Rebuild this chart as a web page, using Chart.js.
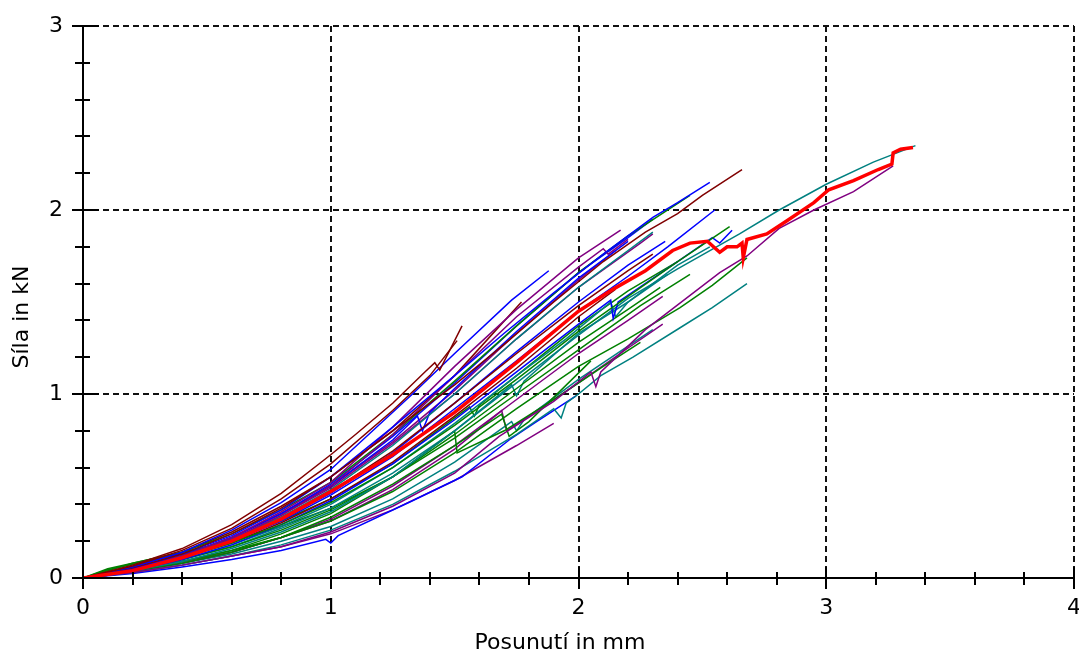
<!DOCTYPE html>
<html>
<head>
<meta charset="utf-8">
<script src="https://cdn.jsdelivr.net/npm/chart.js@4.4.1/dist/chart.umd.min.js"></script>
<style>
  html, body { margin: 0; padding: 0; background: #ffffff; }
  canvas { display: block; }
</style>
</head>
<body>
<canvas id="graf" width="1079" height="660"></canvas>
<script>
// Axis texts and tick values
const xTitle = 'Posunutí in mm';
const yTitle = 'Síla in kN';
const xTickValues = [0, 1, 2, 3, 4];
const yTickValues = [0, 1, 2, 3];
const xMinorTicks = [0.2, 0.4, 0.6, 0.8, 1.2, 1.4, 1.6, 1.8, 2.2, 2.4, 2.6, 2.8, 3.2, 3.4, 3.6, 3.8];
const yMinorTicks = [0.2, 0.4, 0.6, 0.8, 1.2, 1.4, 1.6, 1.8, 2.2, 2.4, 2.6, 2.8];

// Force–displacement records of the specimens: [displacement mm, force kN]
const vzorek01 = [[0,0],[0.2,0.07],[0.4,0.16],[0.6,0.29],[0.8,0.46],[1.0,0.67],[1.1,0.78],[1.25,0.95],[1.38,1.12],[1.42,1.17],[1.44,1.13],[1.53,1.37]];
const vzorek02 = [[0,0],[0.2,0.065],[0.4,0.15],[0.6,0.27],[0.8,0.43],[1.0,0.62],[1.25,0.91],[1.4,1.1],[1.51,1.29]];
const vzorek03 = [[0,0],[0.2,0.06],[0.4,0.14],[0.6,0.26],[0.8,0.41],[1.0,0.59],[1.33,1.0],[1.5,1.22],[1.73,1.51],[1.88,1.67]];
const vzorek04 = [[0,0],[0.2,0.055],[0.4,0.13],[0.6,0.24],[0.8,0.38],[1.0,0.55],[1.25,0.8],[1.5,1.05],[1.7,1.27],[1.9,1.5],[2.1,1.72],[2.27,1.88],[2.4,1.98],[2.5,2.08],[2.66,2.22]];
const vzorek05 = [[0,0],[0.2,0.05],[0.4,0.13],[0.6,0.23],[0.8,0.37],[1.0,0.55],[1.25,0.82],[1.5,1.1],[1.7,1.33],[1.9,1.55],[2.1,1.76],[2.3,1.96],[2.4,2.04],[2.53,2.15]];
const vzorek06 = [[0,0],[0.2,0.05],[0.4,0.12],[0.6,0.22],[0.8,0.36],[1.0,0.52],[1.25,0.82],[1.5,1.15],[1.75,1.46],[2.0,1.74],[2.17,1.89]];
const vzorek07 = [[0,0],[0.2,0.045],[0.4,0.11],[0.6,0.21],[0.8,0.34],[1.0,0.5],[1.25,0.78],[1.5,1.1],[1.75,1.42],[2.0,1.69],[2.1,1.79],[2.12,1.76],[2.2,1.84]];
const vzorek08 = [[0,0],[0.1,0.05],[0.2,0.08],[0.4,0.14],[0.6,0.24],[0.8,0.37],[1.0,0.52],[1.25,0.78],[1.5,1.07],[1.75,1.37],[2.0,1.66],[2.2,1.86],[2.45,2.08]];
const vzorek09 = [[0,0],[0.2,0.05],[0.4,0.12],[0.6,0.21],[0.8,0.33],[1.0,0.48],[1.25,0.72],[1.5,1.0],[1.75,1.3],[2.0,1.58],[2.2,1.78],[2.3,1.88]];
const vzorek10 = [[0,0],[0.2,0.045],[0.4,0.11],[0.6,0.2],[0.8,0.31],[1.0,0.45],[1.25,0.66],[1.5,0.92],[1.75,1.18],[2.0,1.45],[2.2,1.64],[2.36,1.8],[2.55,2.0]];
const vzorek11 = [[0,0],[0.2,0.05],[0.4,0.11],[0.6,0.19],[0.8,0.29],[1.0,0.41],[1.25,0.6],[1.5,0.83],[1.75,1.08],[2.0,1.34],[2.2,1.53],[2.4,1.72],[2.61,1.91]];
const vzorek12 = [[0,0],[0.2,0.04],[0.4,0.1],[0.6,0.18],[0.8,0.29],[1.0,0.42],[1.25,0.62],[1.5,0.86],[1.75,1.12],[2.0,1.38],[2.13,1.51],[2.14,1.41],[2.16,1.5],[2.4,1.72],[2.54,1.85],[2.57,1.82],[2.62,1.89]];
const vzorek13 = [[0,0],[0.2,0.04],[0.4,0.09],[0.6,0.16],[0.8,0.25],[1.0,0.36],[1.25,0.55],[1.5,0.8],[1.75,1.06],[2.0,1.32],[2.2,1.52],[2.4,1.68],[2.65,1.87],[2.81,2.0],[3.0,2.14],[3.19,2.26],[3.36,2.35]];
const vzorek15 = [[0,0],[0.2,0.03],[0.4,0.07],[0.6,0.12],[0.8,0.17],[1.0,0.25],[1.25,0.39],[1.5,0.57],[1.68,0.77],[1.9,0.96],[2.05,1.12],[2.07,1.04],[2.09,1.12],[2.27,1.35],[2.57,1.66],[2.68,1.75],[2.81,1.9],[2.95,2.0],[3.11,2.1],[3.27,2.24]];
const vzorek16 = [[0,0],[0.2,0.04],[0.4,0.09],[0.6,0.15],[0.8,0.22],[1.0,0.31],[1.25,0.47],[1.5,0.68],[1.75,0.92],[2.0,1.15],[2.2,1.3],[2.41,1.47],[2.54,1.59],[2.68,1.74]];
const vzorek17 = [[0,0],[0.2,0.03],[0.4,0.07],[0.6,0.12],[0.8,0.18],[1.0,0.26],[1.25,0.4],[1.5,0.58],[1.75,0.78],[1.9,0.92],[1.93,0.87],[1.95,0.95],[2.0,1.0],[2.09,1.1],[2.22,1.2],[2.41,1.36],[2.54,1.47],[2.68,1.6]];
const vzorek18 = [[0,0],[0.2,0.025],[0.4,0.06],[0.6,0.1],[0.8,0.15],[0.98,0.21],[1.0,0.19],[1.03,0.23],[1.33,0.42],[1.53,0.55],[1.72,0.75],[1.82,0.84],[1.99,0.99]];
const vzorek19 = [[0,0],[0.2,0.04],[0.4,0.09],[0.6,0.15],[0.8,0.24],[1.0,0.35],[1.25,0.55],[1.5,0.8],[1.51,0.68],[1.7,0.8],[1.9,0.97],[2.1,1.15],[2.25,1.28]];
const vzorek20 = [[0,0],[0.2,0.035],[0.4,0.08],[0.6,0.14],[0.8,0.22],[1.0,0.33],[1.25,0.51],[1.5,0.72],[1.69,0.89],[1.72,0.77],[1.8,0.85],[2.05,1.18]];
const vzorek21 = [[0,0],[0.2,0.04],[0.4,0.09],[0.6,0.14],[0.8,0.22],[1.0,0.31],[1.25,0.48],[1.5,0.7],[1.69,0.91],[1.71,0.8],[1.8,0.88],[2.0,1.06],[2.2,1.25],[2.34,1.38]];
const vzorek22 = [[0,0],[0.2,0.045],[0.4,0.1],[0.6,0.17],[0.8,0.26],[1.0,0.37],[1.25,0.55],[1.5,0.78],[1.75,1.03],[2.0,1.28],[2.2,1.46],[2.33,1.58]];
const vzorek23 = [[0,0],[0.2,0.035],[0.4,0.08],[0.6,0.14],[0.8,0.22],[1.0,0.32],[1.25,0.5],[1.5,0.72],[1.75,0.97],[2.0,1.22],[2.2,1.4],[2.34,1.53]];
const vzorek24 = [[0,0],[0.2,0.04],[0.4,0.1],[0.6,0.17],[0.8,0.27],[1.0,0.38],[1.25,0.57],[1.5,0.8],[1.73,1.05],[1.75,0.99],[1.78,1.07],[2.0,1.33],[2.2,1.5],[2.36,1.65]];
const vzorek25 = [[0,0],[0.2,0.05],[0.4,0.12],[0.6,0.21],[0.8,0.33],[1.0,0.47],[1.25,0.69],[1.5,0.95],[1.75,1.22],[2.0,1.48],[2.2,1.67],[2.3,1.76]];
const vzorek26 = [[0,0],[0.2,0.045],[0.4,0.11],[0.6,0.19],[0.8,0.3],[1.0,0.43],[1.25,0.63],[1.5,0.88],[1.75,1.14],[2.0,1.42],[2.15,1.57]];
const vzorek27 = [[0,0],[0.2,0.05],[0.4,0.12],[0.6,0.22],[0.8,0.35],[1.0,0.5],[1.25,0.75],[1.35,0.88],[1.37,0.8],[1.4,0.9],[1.5,1.03],[1.75,1.34],[2.0,1.63],[2.2,1.83]];
const vzorek28 = [[0,0],[0.2,0.045],[0.4,0.1],[0.6,0.18],[0.8,0.28],[1.0,0.4],[1.25,0.6],[1.5,0.84],[1.75,1.1],[1.95,1.3],[2.13,1.5],[2.15,1.42],[2.2,1.5],[2.4,1.7],[2.53,1.8]];
const vzorek29 = [[0,0],[0.15,0.06],[0.2,0.08],[0.4,0.14],[0.6,0.2],[0.8,0.28],[1.0,0.38],[1.25,0.55],[1.5,0.76],[1.75,1.0],[2.0,1.24],[2.25,1.48],[2.45,1.65]];
const vzorek30 = [[0,0],[0.2,0.05],[0.4,0.12],[0.6,0.21],[0.8,0.34],[1.0,0.49],[1.25,0.73],[1.5,1.0],[1.75,1.3],[2.0,1.58],[2.25,1.82],[2.3,1.87]];
const vzorek31 = [[0,0],[0.2,0.05],[0.4,0.12],[0.6,0.22],[0.8,0.35],[1.0,0.51],[1.25,0.77],[1.5,1.06],[1.75,1.37],[2.0,1.66],[2.2,1.85],[2.3,1.95]];
const vzorek32 = [[0,0],[0.2,0.035],[0.4,0.08],[0.6,0.13],[0.8,0.2],[1.0,0.28],[1.25,0.43],[1.5,0.63],[1.73,0.85],[1.75,0.8],[1.78,0.86],[2.0,1.08],[2.2,1.26],[2.3,1.35]];
const vzorek33 = [[0,0],[0.2,0.03],[0.4,0.07],[0.6,0.12],[0.8,0.17],[1.0,0.24],[1.25,0.37],[1.5,0.53],[1.75,0.72],[1.9,0.84]];
const vzorek34 = [[0,0],[0.2,0.06],[0.4,0.14],[0.6,0.25],[0.8,0.39],[1.0,0.55],[1.25,0.8],[1.5,1.1],[1.77,1.5]];
const vzorek35 = [[0,0],[0.2,0.045],[0.4,0.11],[0.6,0.2],[0.8,0.32],[1.0,0.46],[1.25,0.68],[1.5,0.95],[1.75,1.23],[2.0,1.5],[2.2,1.7],[2.35,1.83]];
const vzorek36 = [[0,0],[0.2,0.05],[0.4,0.12],[0.6,0.22],[0.8,0.35],[1.0,0.5],[1.25,0.74],[1.5,1.02],[1.75,1.33],[2.0,1.62],[2.15,1.78]];
const vzorek37 = [[0,0],[0.1,0.045],[0.2,0.075],[0.4,0.13],[0.6,0.21],[0.8,0.31],[1.0,0.43],[1.25,0.62],[1.5,0.87],[1.56,0.93],[1.58,0.88],[1.6,0.94],[1.75,1.1],[2.0,1.37],[2.2,1.56],[2.4,1.72]];
// highlighted specimen
const vzorek14 = [[0,0],[0.2,0.04],[0.4,0.11],[0.6,0.2],[0.8,0.32],[1.0,0.47],[1.25,0.67],[1.5,0.9],[1.75,1.17],[2.0,1.45],[2.14,1.57],[2.27,1.67],[2.38,1.78],[2.45,1.82],[2.52,1.83],[2.57,1.77],[2.6,1.8],[2.64,1.8],[2.66,1.82],[2.665,1.74],[2.68,1.84],[2.76,1.87],[2.84,1.94],[2.95,2.04],[3.01,2.11],[3.11,2.16],[3.21,2.22],[3.265,2.25],[3.27,2.31],[3.3,2.33],[3.35,2.34]];

// Line colours
const barvy = { tmavoCervena: '#800000', modra: '#0000ff', fialova: '#800080', zelena: '#008000', tyrkysova: '#008080', cervena: '#ff0000' };

const krivky = [
  [vzorek01, 'tmavoCervena'], [vzorek02, 'tmavoCervena'], [vzorek03, 'modra'], [vzorek04, 'tmavoCervena'],
  [vzorek05, 'modra'], [vzorek06, 'fialova'], [vzorek07, 'fialova'], [vzorek08, 'zelena'],
  [vzorek09, 'tyrkysova'], [vzorek10, 'modra'], [vzorek11, 'zelena'], [vzorek12, 'modra'],
  [vzorek13, 'tyrkysova'], [vzorek15, 'fialova'], [vzorek16, 'zelena'], [vzorek17, 'tyrkysova'],
  [vzorek18, 'modra'], [vzorek19, 'zelena'], [vzorek20, 'zelena'], [vzorek21, 'fialova'],
  [vzorek22, 'zelena'], [vzorek23, 'fialova'], [vzorek24, 'tyrkysova'], [vzorek25, 'tmavoCervena'],
  [vzorek26, 'tmavoCervena'], [vzorek27, 'modra'], [vzorek28, 'tyrkysova'], [vzorek29, 'zelena'],
  [vzorek30, 'fialova'], [vzorek31, 'modra'], [vzorek32, 'tyrkysova'], [vzorek33, 'fialova'],
  [vzorek34, 'tmavoCervena'], [vzorek35, 'modra'], [vzorek36, 'fialova'], [vzorek37, 'zelena']
];

const datasets = krivky.map(([data, barva]) => ({
  data, showLine: true, borderColor: barvy[barva], borderWidth: 1.5, pointRadius: 0, order: 1
}));
datasets.push({ data: vzorek14, showLine: true, borderColor: barvy.cervena, borderWidth: 3.5, pointRadius: 0, order: 0 });

const FONT = 'DejaVu Sans';

// Solid axes with crossing major/minor tick marks, plus axis titles
const osyAZnacky = {
  id: 'osyAZnacky',
  afterDatasetsDraw(chart) {
    const { ctx, chartArea: a, scales: { x, y } } = chart;
    ctx.save();
    ctx.setLineDash([]);
    ctx.strokeStyle = '#000';
    ctx.lineWidth = 2;
    ctx.beginPath();
    ctx.moveTo(a.left, a.top); ctx.lineTo(a.left, a.bottom); ctx.lineTo(a.right, a.bottom);
    for (const v of xTickValues) {
      const px = Math.round(x.getPixelForValue(v));
      ctx.moveTo(px, a.bottom - 11); ctx.lineTo(px, a.bottom + 11);
    }
    for (const v of xMinorTicks) {
      const px = Math.round(x.getPixelForValue(v));
      ctx.moveTo(px, a.bottom - 6); ctx.lineTo(px, a.bottom + 7);
    }
    for (const v of yTickValues) {
      const py = Math.round(y.getPixelForValue(v));
      ctx.moveTo(a.left - 11, py); ctx.lineTo(a.left + 16, py);
    }
    for (const v of yMinorTicks) {
      const py = Math.round(y.getPixelForValue(v));
      ctx.moveTo(a.left - 8, py); ctx.lineTo(a.left + 7, py);
    }
    ctx.stroke();

    ctx.fillStyle = '#000';
    ctx.font = '22px "' + FONT + '"';
    ctx.textAlign = 'center';
    ctx.textBaseline = 'middle';
    ctx.fillText(xTitle, 560, 643);
    ctx.translate(22, 317);
    ctx.rotate(-Math.PI / 2);
    ctx.fillText(yTitle, 0, 0);
    ctx.restore();
  }
};

new Chart(document.getElementById('graf'), {
  type: 'scatter',
  data: { datasets },
  options: {
    responsive: false,
    animation: false,
    devicePixelRatio: 1,
    layout: { padding: { top: 26, right: 5, bottom: 0, left: 0 } },
    plugins: { legend: { display: false }, tooltip: { enabled: false } },
    elements: { line: { tension: 0 }, point: { radius: 0 } },
    scales: {
      x: {
        type: 'linear', min: 0, max: 4,
        afterBuildTicks: s => { s.ticks = xTickValues.map(v => ({ value: v })); },
        grid: { color: '#111', lineWidth: 2, drawTicks: false },
        border: { display: false, dash: [6, 4] },
        ticks: { padding: 17, color: '#000', maxRotation: 0, font: { family: FONT, size: 22 } },
        afterFit: s => { s.height = 82; s.paddingLeft = 0; s.paddingRight = 0; }
      },
      y: {
        type: 'linear', min: 0, max: 3,
        afterBuildTicks: s => { s.ticks = yTickValues.map(v => ({ value: v })); },
        grid: { color: '#111', lineWidth: 2, drawTicks: false },
        border: { display: false, dash: [6, 4] },
        ticks: { padding: 20, color: '#000', font: { family: FONT, size: 22 } },
        afterFit: s => { s.width = 83; s.paddingTop = 0; s.paddingBottom = 0; }
      }
    }
  },
  plugins: [osyAZnacky]
});
</script>
</body>
</html>
